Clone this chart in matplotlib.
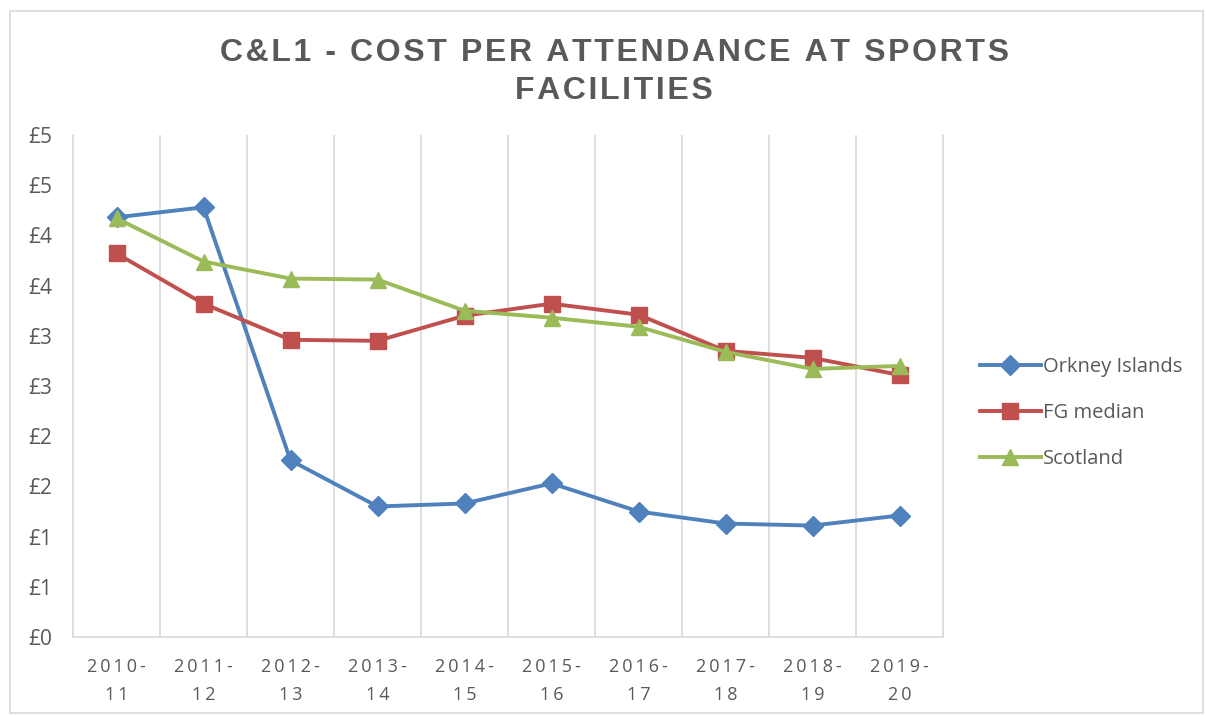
import matplotlib
matplotlib.use("Agg")
import matplotlib.pyplot as plt
from matplotlib.patches import Rectangle

categories = ["2010-\n11", "2011-\n12", "2012-\n13", "2013-\n14", "2014-\n15",
              "2015-\n16", "2016-\n17", "2017-\n18", "2018-\n19", "2019-\n20"]
orkney = [4.18, 4.28, 1.76, 1.30, 1.33, 1.53, 1.25, 1.13, 1.11, 1.21]
fg_median = [3.82, 3.32, 2.96, 2.95, 3.20, 3.32, 3.21, 2.85, 2.78, 2.61]
scotland = [4.17, 3.74, 3.57, 3.56, 3.25, 3.18, 3.09, 2.84, 2.67, 2.70]
y_ticks = [0, 0.5, 1, 1.5, 2, 2.5, 3, 3.5, 4, 4.5, 5]
y_tick_labels = ["£0", "£1", "£1", "£2", "£2", "£3", "£3", "£4", "£4", "£5", "£5"]
title = "C&L1 - COST PER ATTENDANCE AT SPORTS\nFACILITIES"

def spaced(s, sp):
    return "\n".join(sp.join(list(line)) for line in s.split("\n"))

fig = plt.figure(figsize=(12.06, 7.16), dpi=100)
ax = fig.add_axes([73/1206, 1-637/716, (943-73)/1206, (637-135)/716])

x = list(range(len(categories)))
ax.plot(x, orkney, color="#4F81BD", lw=2.8, marker="D", ms=10.5, label="Orkney Islands")
ax.plot(x, fg_median, color="#C0504D", lw=2.8, marker="s", ms=11, label="FG median")
ax.plot(x, scotland, color="#9BBB59", lw=2.8, marker="^", ms=12, label="Scotland")

ax.set_xlim(-0.5, len(categories) - 0.5)
ax.set_ylim(0, 5)
for i in range(len(categories) - 1):
    ax.axvline(i + 0.5, color="#D9D9D9", lw=1.2, zorder=0)
ax.spines["top"].set_visible(False)
for s in ["left", "bottom", "right"]:
    ax.spines[s].set_color("#D9D9D9")
    ax.spines[s].set_linewidth(1.2)

fam = ["Open Sans", "DejaVu Sans"]
ax.set_xticks(x)
ax.set_xticklabels([spaced(c, "\u2009") for c in categories], fontsize=13, color="#595959",
                   family=fam, linespacing=1.7)
ax.set_yticks(y_ticks)
ax.set_yticklabels(y_tick_labels, fontsize=15, color="#595959", family=fam)
ax.tick_params(axis="x", length=0, pad=15)
ax.tick_params(axis="y", length=0, pad=15)

fig.text(614/1206, 1-72/716, spaced(title, "\u200a"), ha="center", va="center",
         fontsize=23, fontweight="bold", color="#595959",
         family=["Liberation Sans", "DejaVu Sans"], linespacing=1.35)

leg = fig.legend(loc="center left", bbox_to_anchor=(962/1206, 1-413/716),
                 frameon=False, prop={"family": "Open Sans", "size": 14.5},
                 labelcolor="#595959", handlelength=3.0, handletextpad=0.1,
                 labelspacing=1.3)

fig.add_artist(Rectangle((10/1206, 1-713/716), 1193/1206, 702/716,
                         transform=fig.transFigure, fill=False,
                         edgecolor="#D9D9D9", lw=1.2))

fig.savefig("out.png", dpi=100, facecolor="white")
